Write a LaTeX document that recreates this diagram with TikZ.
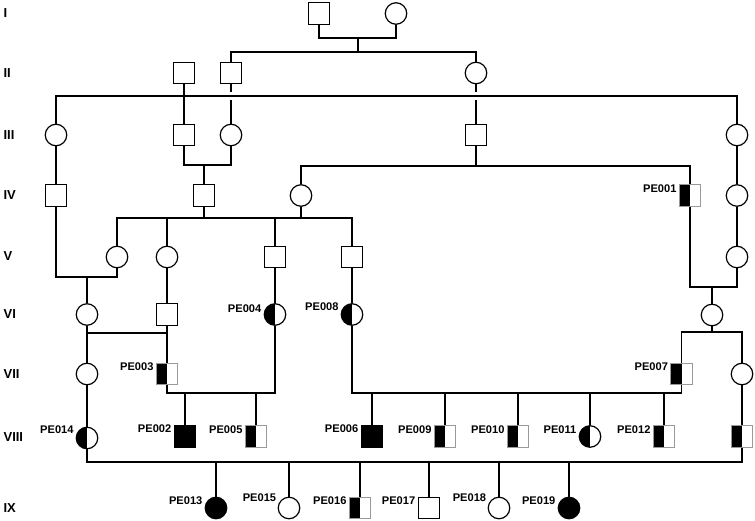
\documentclass[tikz,border=0pt]{standalone}
\usepackage{fontspec}
\setsansfont{Liberation Sans}
\usetikzlibrary{calc}
\begin{document}
\begin{tikzpicture}[x=1pt, y=-1pt, line width=1.2pt, label distance=1pt,
        male/.style={draw, minimum size=21.5pt, inner sep=0pt},
        female/.style={male, circle},
        affm/.style={male, fill=black},
        afff/.style={female, fill=black},
        carm/.style={male, draw=gray!80, line width=0.7pt, path picture={\fill[black] (path picture bounding box.south west) rectangle (path picture bounding box.north);}},
        carf/.style={female, path picture={\fill[black] (path picture bounding box.south west) rectangle (path picture bounding box.north);}},
        lbl/.style={font=\sffamily\bfseries\fontsize{11.1}{13}\selectfont, inner sep=0.8pt},
        gen/.style={font=\sffamily\bfseries\fontsize{13}{15}\selectfont, anchor=west, inner sep=0pt}]
    \useasboundingbox (0,0) rectangle (755,521);
    \foreach \g/\y in {I/13,II/73,III/135,IV/195,V/256,VI/314,VII/374,VIII/437,IX/508}
        \node[gen] (g\g) at (3,\y) {\g};
    % I - III
    \node[male] (I1) at (319,13.5) {};
    \node[female] (I2) at (396,13.5) {};
    \node[male] (II1) at (184,73) {};
    \node[male] (II2) at (231,73) {};
    \node[female] (II3) at (476,73) {};
    \node[female] (III1) at (56,135) {};
    \node[male] (III2) at (184,135) {};
    \node[female] (III3) at (231,135) {};
    \node[male] (III4) at (476,135) {};
    \node[female] (III5) at (737,135) {};
    % IV - VI
    \node[male] (IV1) at (56,195.5) {};
    \node[male] (IV2) at (204,195.5) {};
    \node[female] (IV3) at (301,195.5) {};
    \node[carm, label={[lbl]172:PE001}] (PE001) at (690,195.5) {};
    \node[female] (IV5) at (737,195.5) {};
    \node[female] (V1) at (117,257) {};
    \node[female] (V2) at (167,257) {};
    \node[male] (V3) at (275,257) {};
    \node[male] (V4) at (352,257) {};
    \node[female] (V5) at (737,257) {};
    \node[female] (VI1) at (87,314.5) {};
    \node[male] (VI2) at (167,314.5) {};
    \node[carf, label={[lbl]176:PE004}] (PE004) at (275,314.5) {};
    \node[carf, label={[lbl]168:PE008}] (PE008) at (352,314.5) {};
    \node[female] (VI5) at (712,315) {};
    % VII - IX
    \node[female] (VII1) at (87,374) {};
    \node[carm, label={[lbl]172:PE003}] (PE003) at (167,374) {};
    \node[carm, label={[lbl]172:PE007}] (PE007) at (681.5,374) {};
    \node[female] (VII4) at (742,374) {};
    \node[carf, label={[lbl]168:PE014}] (PE014) at (87,438) {};
    \node[affm, label={[lbl]169:PE002}] (PE002) at (185,436.5) {};
    \node[carm, label={[lbl]172:PE005}] (PE005) at (256,436.5) {};
    \node[affm, label={[lbl]169:PE006}] (PE006) at (372,436.5) {};
    \node[carm, label={[lbl]172:PE009}] (PE009) at (445,436.5) {};
    \node[carm, label={[lbl]172:PE010}] (PE010) at (518,436.5) {};
    \node[carf, label={[lbl]172:PE011}] (PE011) at (590,436.5) {};
    \node[carm, label={[lbl]172:PE012}] (PE012) at (664,436.5) {};
    \node[carm] (VIII9) at (742,436.5) {};
    \node[afff, label={[lbl]172:PE013}] (PE013) at (216,508) {};
    \node[female, label={[lbl]158:PE015}] (PE015) at (289,508) {};
    \node[carm, label={[lbl]172:PE016}] (PE016) at (360,508) {};
    \node[male, label={[lbl]172:PE017}] (PE017) at (429,508) {};
    \node[female, label={[lbl]158:PE018}] (PE018) at (499,508) {};
    \node[afff, label={[lbl]172:PE019}] (PE019) at (569,508) {};
    % junctions
    \coordinate (m1) at (358,38);
    \coordinate (s1) at (358,52);
    \coordinate (s2) at (184,96);
    \coordinate (m2) at (204,165);
    \coordinate (s3) at (476,166);
    \coordinate (s4) at (204,218);
    \coordinate (m3) at (87,277);
    \coordinate (m4) at (712,287);
    \coordinate (s5) at (712,332);
    \coordinate (m5) at (87,333);
    \coordinate (m6) at (220,393);
    \coordinate (m7) at (516,393);
    \coordinate (m8) at (414,462);
    % lines
    \draw (I1) |- (m1) -| (I2);
    \draw (m1) -- (s1);
    \draw (II2) |- (s1) -| (II3);
    \draw (III1) |- (s2) -| (III5);
    \draw (II1) -- (III2);
    \draw (II2) -- ($(II2|-s2)+(0,-3.5)$);
    \draw ($(II2|-s2)+(0,4)$) -- (III3);
    \draw (II3) -- ($(II3|-s2)+(0,-3.5)$);
    \draw ($(II3|-s2)+(0,4)$) -- (III4);
    \draw (III2) |- (m2) -| (III3);
    \draw (m2) -- (IV2);
    \draw (III4) -- (s3);
    \draw (IV3) |- (s3) -| (PE001);
    \draw (III1) -- (IV1);
    \draw (III5) -- (IV5) -- (V5);
    \draw (IV2) -- (s4);
    \draw (IV3) -- (IV3|-s4);
    \draw (V1) |- (s4) -| (V4);
    \draw (V2) -- (V2|-s4);
    \draw (V3) -- (V3|-s4);
    \draw (IV1) |- (m3) -| (V1);
    \draw (m3) -- (VI1);
    \draw (V2) -- (VI2);
    \draw (V3) -- (PE004);
    \draw (V4) -- (PE008);
    \draw (PE001) |- (m4) -| (V5);
    \draw (m4) -- (VI5);
    \draw (VI5) -- (s5);
    \draw (PE007) |- (s5) -| (VII4);
    \draw (VI1) -- (VII1);
    \draw (m5) -- (VI2|-m5);
    \draw (VI2) -- (PE003);
    \draw (PE003) |- (m6) -| (PE004);
    \draw (PE002) -- (PE002|-m6);
    \draw (PE005) -- (PE005|-m6);
    \draw (PE008) |- (m7) -| (PE007);
    \foreach \c in {PE006,PE009,PE010,PE011,PE012}
        \draw (\c) -- (\c|-m7);
    \draw (VII1) -- (PE014);
    \draw (VII4) -- (VIII9);
    \draw (PE014) |- (m8) -| (VIII9);
    \foreach \c in {PE013,PE015,PE016,PE017,PE018,PE019}
        \draw (\c) -- (\c|-m8);
\end{tikzpicture}
\end{document}
